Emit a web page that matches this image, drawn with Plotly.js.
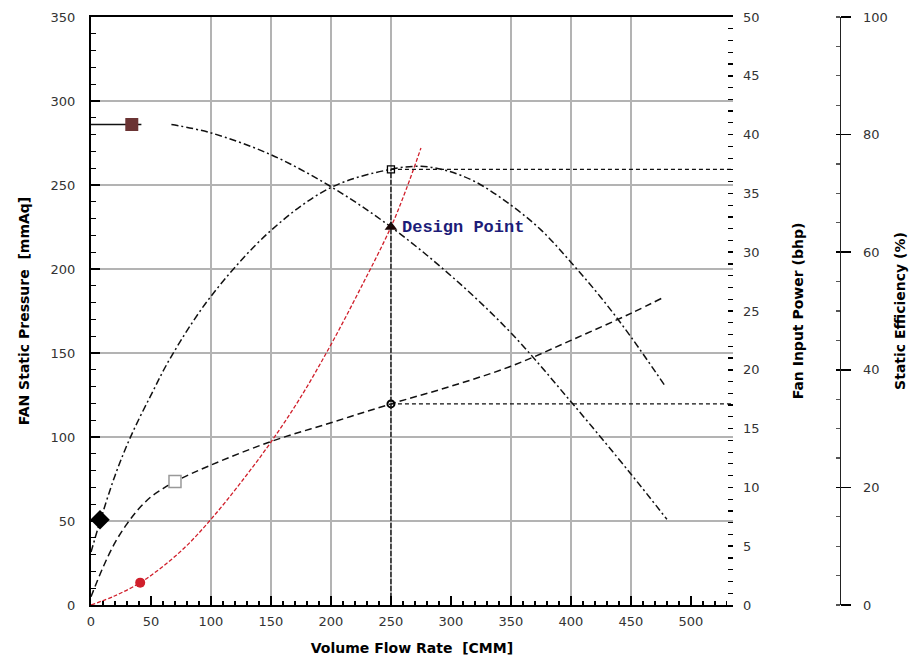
<!DOCTYPE html>
<html><head><meta charset="utf-8">
<script src="https://cdn.plot.ly/plotly-3.0.1.min.js"></script>
<style>html,body{margin:0;padding:0;background:#fff}#chart{width:912px;height:661px}</style>
</head><body><div id="chart"></div>
<script>
// ---- data ----
const xTickVals = [0,50,100,150,200,250,300,350,400,450,500];
const xGridVals = [100,150,200,250,350,400,450];

// Fan static pressure curve [mmAq]
const pressureQ = [67,100,150,200,250,300,350,400,450,480];
const pressureP = [286,281,268,249,225,196,162,121,78,51];
// shut-off (solid) segment
const shutoffQ = [0,42];
const shutoffP = [286,286];

// Static efficiency curve [%]
const effQ = [0,8,20,33,50,67,100,150,200,250,275,296,321,350,375,400,425,450,478];
const effE = [9,14.5,22,28.6,35.7,42.3,52.5,63.7,71,74.1,74.6,73.9,71.9,68,63.8,58.3,52.3,45.6,37.4];

// Fan input power curve [bhp]
const powerQ = [0,10,20,30,40,50,60,70,100,150,200,250,300,350,400,450,478];
const powerW = [0.7,3.2,5.3,6.9,8.2,9.2,9.9,10.5,11.9,13.9,15.5,17.1,18.6,20.3,22.5,24.8,26.2];

// System resistance curve [mmAq]
const systemQ = [0,20,41,60,80,100,125,150,175,200,225,250,263,275];
const systemP = [0,5.5,13.3,23,35.5,51,73,97,124,155,189,225,248,272];

// Design point
const designQ = 250, designP = 225, designPower = 17.1, designEff = 74.1;
// Curve markers
const markPressure = {q:34, v:286};
const markEff = {q:7.5, v:14.5};
const markPower = {q:70, v:10.5};
const markSystem = {q:41, v:13.3};

const xMax = 535;

const blk = '#111';
const red = '#d01f2b';
const sp = {shape:'spline', smoothing:1};
const traces = [
  {x:effQ, y:effE, yaxis:'y3', mode:'lines', line:Object.assign({color:blk, width:1.5, dash:'7px,3px,2px,3px'}, sp), hoverinfo:'skip'},
  {x:pressureQ, y:pressureP, yaxis:'y', mode:'lines', line:Object.assign({color:blk, width:1.5, dash:'7px,3px,2px,3px'}, sp), hoverinfo:'skip'},
  {x:shutoffQ, y:shutoffP, yaxis:'y', mode:'lines', line:{color:blk, width:1.5}, hoverinfo:'skip'},
  {x:powerQ, y:powerW, yaxis:'y2', mode:'lines', line:Object.assign({color:blk, width:1.5, dash:'7px,4px'}, sp), hoverinfo:'skip'},
  {x:systemQ, y:systemP, yaxis:'y', mode:'lines', line:Object.assign({color:red, width:1.3, dash:'4px,2px'}, sp), hoverinfo:'skip'},
  // design guide lines
  {x:[designQ, designQ], y:[0, designEff], yaxis:'y3', mode:'lines', line:{color:blk, width:1.3, dash:'5px,2px'}, hoverinfo:'skip'},
  {x:[designQ, xMax], y:[designEff, designEff], yaxis:'y3', mode:'lines', line:{color:blk, width:1.3, dash:'4px,3px'}, hoverinfo:'skip'},
  {x:[designQ, xMax], y:[designPower, designPower], yaxis:'y2', mode:'lines', line:{color:blk, width:1.3, dash:'4px,3px'}, hoverinfo:'skip'},
  // markers
  {x:[markPressure.q], y:[markPressure.v], yaxis:'y', mode:'markers', marker:{symbol:'square', size:13, color:'#6b3434'}, hoverinfo:'skip'},
  {x:[markEff.q], y:[markEff.v], yaxis:'y3', mode:'markers', marker:{symbol:'diamond', size:15, color:'#000'}, hoverinfo:'skip'},
  {x:[markPower.q], y:[markPower.v], yaxis:'y2', mode:'markers', marker:{symbol:'square', size:12, color:'#fff', line:{color:'#999', width:1.5}}, hoverinfo:'skip'},
  {x:[markSystem.q], y:[markSystem.v], yaxis:'y', mode:'markers', marker:{symbol:'circle', size:10, color:red}, hoverinfo:'skip'},
  {x:[designQ], y:[designEff], yaxis:'y3', mode:'markers', marker:{symbol:'square-open', size:7, color:'#000', line:{width:1.3}}, hoverinfo:'skip'},
  {x:[designQ], y:[designPower], yaxis:'y2', mode:'markers', marker:{symbol:'circle-open', size:7, color:'#000', line:{width:2}}, hoverinfo:'skip'},
  {x:[designQ], y:[designP], yaxis:'y', mode:'markers', marker:{symbol:'triangle-up', size:11, color:'#1a0505'}, hoverinfo:'skip'},
  // helpers so the overlay axes exist
  {x:[designQ], y:[designP], xaxis:'x2', yaxis:'y', mode:'markers', marker:{size:1, opacity:0}, hoverinfo:'skip'},
  {x:[designQ], y:[designEff], yaxis:'y4', mode:'markers', marker:{size:1, opacity:0}, hoverinfo:'skip'}
];

const tickFont = {family:'DejaVu Sans', size:13, color:'#333'};
const titleFont = {family:'DejaVu Sans', size:14, color:'#000'};
const dom = [0, 0.857];

const layout = {
  width:912, height:661,
  margin:{l:91, r:72, t:17, b:56, pad:0},
  paper_bgcolor:'#fff', plot_bgcolor:'#fff',
  showlegend:false,
  xaxis:{domain:dom, range:[0,xMax], tickmode:'array', tickvals:xTickVals, ticks:'inside', ticklen:9, tickwidth:1.5, tickcolor:'#000',
    minor:{tick0:0, dtick:10, ticks:'inside', ticklen:4, tickwidth:1.2, tickcolor:'#000', showgrid:false},
    showgrid:false, zeroline:false, showline:true, linecolor:'#000', linewidth:2, mirror:true,
    tickfont:tickFont, ticklabelstandoff:3,
    title:{text:'<b>Volume Flow Rate  [CMM]</b>', font:titleFont, standoff:16}},
  xaxis2:{overlaying:'x', anchor:'y', range:[0,xMax], tickmode:'array', tickvals:xGridVals, showticklabels:false, ticks:'',
    showgrid:true, gridcolor:'#b3b3b3', gridwidth:1.5, showline:false, zeroline:false},
  yaxis:{range:[0,350], dtick:50, ticks:'inside', ticklen:9, tickwidth:1.5, tickcolor:'#000',
    minor:{dtick:10, ticks:'inside', ticklen:5, tickwidth:1.2, tickcolor:'#000', showgrid:false},
    showgrid:true, gridcolor:'#b3b3b3', gridwidth:1.5, zeroline:false, showline:true, linecolor:'#000', linewidth:2,
    tickfont:tickFont, ticklabelstandoff:11,
    title:{text:'<b>FAN Static Pressure  [mmAq]</b>', font:titleFont, standoff:18}},
  yaxis2:{overlaying:'y', anchor:'x', side:'right', range:[0,50], dtick:5, ticks:'inside', ticklen:5, tickwidth:1.5, tickcolor:'#000',
    minor:{dtick:1, ticks:'inside', ticklen:5, tickwidth:1.2, tickcolor:'#000', showgrid:false},
    showgrid:false, zeroline:false, showline:false,
    tickfont:tickFont, ticklabelstandoff:9,
    title:{text:'<b>Fan Input Power (bhp)</b>', font:titleFont, standoff:34}},
  yaxis3:{overlaying:'y', anchor:'free', position:1, side:'right', range:[0,100], dtick:20, ticks:'outside', ticklen:10, tickwidth:1.5, tickcolor:'#000',
    minor:{dtick:5, ticks:'inside', ticklen:4, tickwidth:1.2, tickcolor:'#555', showgrid:false},
    showgrid:false, zeroline:false, showline:true, linecolor:'#222', linewidth:1.3,
    tickfont:tickFont, ticklabelstandoff:9,
    title:{text:'<b>Static Efficiency (%)</b>', font:titleFont, standoff:8}},
  yaxis4:{overlaying:'y', anchor:'free', position:1, side:'right', range:[0,100], dtick:20, ticks:'inside', ticklen:4, tickwidth:1.5, tickcolor:'#000',
    showticklabels:false, showgrid:false, zeroline:false, showline:false},
  annotations:[{x:designQ, y:designP, xref:'x', yref:'y', text:'<b>Design Point</b>', showarrow:false, xanchor:'left', yanchor:'middle', xshift:9,
    font:{family:'Liberation Mono', size:17, color:'#1c1c78'}}]
};

Plotly.newPlot('chart', traces, layout, {displayModeBar:false, staticPlot:true});
</script>
</body></html>
